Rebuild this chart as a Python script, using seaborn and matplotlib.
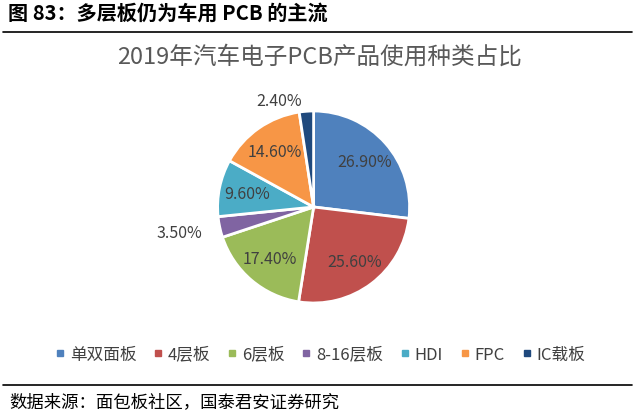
import matplotlib
matplotlib.use("Agg")
import matplotlib.pyplot as plt
from matplotlib.lines import Line2D
import seaborn as sns
import numpy as np

categories = ["单双面板", "4层板", "6层板", "8-16层板", "HDI", "FPC", "IC载板"]
values = [26.9, 25.6, 17.4, 3.5, 9.6, 14.6, 2.4]
colors = ["#4F81BD", "#C0504D", "#9BBB59", "#8064A2", "#4BACC6", "#F79646", "#1F497D"]
header = "图 83：多层板仍为车用 PCB 的主流"
title = "2019年汽车电子PCB产品使用种类占比"
source = "数据来源：面包板社区，国泰君安证券研究"

sns.set_theme(style="white")
plt.rcParams['font.family'] = ['Noto Sans CJK SC', 'DejaVu Sans']
palette = sns.color_palette(colors)

fig = plt.figure(figsize=(6.4, 4.14), dpi=100)
fig.patch.set_facecolor("white")

ax = fig.add_axes([0.340, 0.2657, 0.30, 0.4638])
wedges, texts, autotexts = ax.pie(
    values, colors=palette, startangle=90, counterclock=False,
    autopct=lambda p: f"{p:.2f}%", pctdistance=0.71,
    wedgeprops=dict(edgecolor="white", linewidth=2),
    textprops=dict(color="#404040", fontsize=11.5))
ax.set_xlim(-1, 1)
ax.set_ylim(-1, 1)
ax.set_aspect("equal")
for t in autotexts:
    t.set_clip_on(False)
# small slices: labels outside, right-aligned
for i, t in enumerate(autotexts):
    if values[i] < 5:
        w = wedges[i]
        ang = np.deg2rad((w.theta1 + w.theta2) / 2)
        r = 1.14
        t.set_position((r * np.cos(ang) - 0.04, r * np.sin(ang) - 0.03))
        t.set_ha("right")

fig.text(0.012, 0.968, header, fontsize=14.5, fontweight="bold", color="black",
         va="center", ha="left")
fig.add_artist(Line2D([0.005, 0.988], [0.920, 0.920], color="black", lw=1.2,
                      transform=fig.transFigure))
fig.text(0.5, 0.862, title, fontsize=17, color="#595959", ha="center", va="center")

handles = [plt.Line2D([0], [0], marker="s", linestyle="", markersize=4.5,
                      markerfacecolor=c, markeredgecolor=c) for c in colors]
leg = fig.legend(handles, categories, loc="center", bbox_to_anchor=(0.5, 0.142),
                 ncol=7, frameon=False, fontsize=12, handlelength=0.6,
                 handletextpad=0.3, columnspacing=1.0)
for t in leg.get_texts():
    t.set_color("#404040")

fig.add_artist(Line2D([0.005, 0.988], [0.068, 0.068], color="black", lw=1.2,
                      transform=fig.transFigure))
fig.text(0.015, 0.028, source, fontsize=12.5, color="black", va="center", ha="left")

fig.savefig("out.png", dpi=100, facecolor="white")
